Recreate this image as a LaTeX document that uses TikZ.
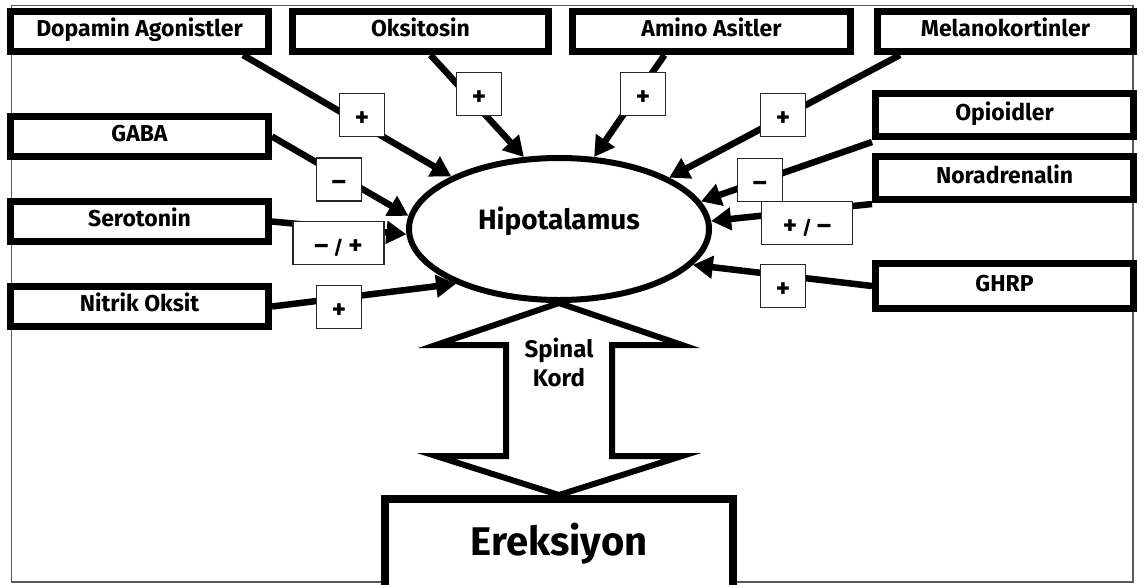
\documentclass[tikz,border=0pt]{standalone}
\usepackage{fontspec}
\setsansfont{Fira Sans}
\usetikzlibrary{arrows.meta,shapes.geometric}
\pgfdeclarelayer{bg}
\pgfsetlayers{bg,main}
\newcommand\sgplus{{\fontsize{27}{27}\selectfont +}}
\newcommand\sgminus{{\fontsize{27}{27}\selectfont --}}
\newcommand\sgslash{{\fontsize{19}{19}\selectfont /}}
\begin{document}
\begin{tikzpicture}[x=1pt,y=-1pt,
  box/.style={draw, line width=7pt, fill=white, minimum width=258pt, minimum height=40pt, inner sep=0pt,
    font=\sffamily\bfseries\fontsize{23}{26}\selectfont, text height=16pt, text depth=6pt},
  sign/.style={draw=black!85, line width=1.5pt, fill=white, minimum width=45pt, minimum height=43pt, inner sep=0pt,
    font=\sffamily\bfseries, text height=22pt, text depth=0pt},
  conn/.style={line width=6.5pt, -{Triangle[length=20pt,width=22pt]}},
]
\useasboundingbox (0,0) rectangle (1147,584);
% source boxes
\node[box] (dop) at (139.5,31.5) {Dopamin Agonistler};
\node[box, minimum width=256pt] (oks) at (420.5,31.5) {Oksitosin};
\node[box, minimum width=278pt] (ami) at (711.5,31.5) {Amino Asitler};
\node[box, minimum width=256pt] (mel) at (1005.5,31.5) {Melanokortinler};
\node[box] (gaba) at (139.5,136.5) {GABA};
\node[box] (ser) at (139.5,221.5) {Serotonin};
\node[box] (nit) at (139.5,306.5) {Nitrik Oksit};
\node[box, minimum width=258pt, minimum height=43pt] (opi) at (1004.5,115) {Opioidler};
\node[box, minimum width=258pt, minimum height=43pt] (nor) at (1004.5,178) {Noradrenalin};
\node[box, minimum width=258pt, minimum height=45pt] (ghrp) at (1004.5,286) {GHRP};
% hypothalamus
\node[draw, ellipse, line width=6pt, minimum width=300pt, minimum height=142pt, inner sep=0pt,
  font=\sffamily\bfseries\fontsize{28}{32}\selectfont] (hyp) at (559,229) {\raisebox{0pt}[0pt][0pt]{Hipotalamus}};
% erection box
\node[draw, line width=8pt, fill=white, minimum width=348pt, minimum height=96pt, anchor=north,
  font=\sffamily\bfseries\fontsize{40}{46}\selectfont] (ere) at (559,495) {\raisebox{-8pt}[0pt][0pt]{Ereksiyon}};
\begin{pgfonlayer}{bg}
\draw[line width=1.5pt, black!65] (11.5,5.5) rectangle (1133,582);
\draw[conn] ([xshift=-29pt]dop.south east) -- (hyp.154);
\draw[conn] ([xshift=10pt]oks.south) -- (hyp.116);
\draw[conn] ([xshift=-47pt]ami.south) -- (hyp.64);
\draw[conn] ([xshift=26pt]mel.south west) -- (hyp.25);
\draw[conn] (gaba.east) -- (hyp.175);
\draw[conn] (ser.east) -- (hyp.182);
\draw[conn] (nit.east) -- (hyp.208);
\draw[conn] ([yshift=-2pt]opi.south west) -- (hyp.11);
\draw[conn] ([yshift=-1pt]nor.south west) -- (hyp.3);
\draw[conn] (ghrp.west) -- (hyp.-15);
% spinal cord double arrow
\draw[line width=6pt, fill=white, line join=miter] (hyp.south) -- ++(123,42) -- ++(-70,0) -- ++(0,111) -- ++(70,0)
  -- (ere.north) -- ++(-123,-39) -- ++(70,0) -- ++(0,-111) -- ++(-70,0) -- cycle;
\end{pgfonlayer}
\node[font=\sffamily\bfseries\fontsize{24}{29}\selectfont, align=center] (spk) at (559,362) {Spinal\\Kord};
% sign labels
\node[sign] (s1) at (362,115) {\sgplus};
\node[sign] (s2) at (479,94) {\sgplus};
\node[sign] (s3) at (643,94) {\sgplus};
\node[sign] (s4) at (783,115) {\sgplus};
\node[sign] (s5) at (339,179.5) {\sgminus};
\node[sign, minimum width=91pt] (s6) at (338.5,243) {\sgminus\hspace{5pt}\sgslash\hspace{5pt}\sgplus};
\node[sign] (s7) at (339,307) {\sgplus};
\node[sign] (s8) at (760,180) {\sgminus};
\node[sign, minimum width=91pt] (s9) at (807,223) {\sgplus\hspace{5pt}\sgslash\hspace{5pt}\sgminus};
\node[sign] (s10) at (783,286) {\sgplus};
\end{tikzpicture}
\end{document}
